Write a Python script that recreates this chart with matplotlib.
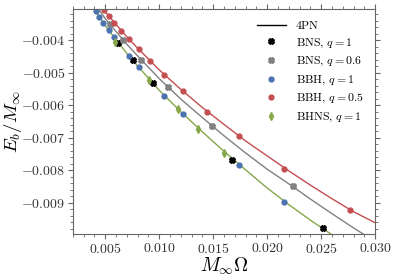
import numpy as np
import matplotlib
matplotlib.use("Agg")
import matplotlib.pyplot as plt
from matplotlib.ticker import MultipleLocator, FuncFormatter

plt.rcParams['font.family'] = 'serif'
plt.rcParams['font.serif'] = ['cmr10']
plt.rcParams['mathtext.fontset'] = 'cm'
plt.rcParams['axes.formatter.use_mathtext'] = True

# 4PN curves
om_q1 = [0.0035, 0.004, 0.005, 0.006, 0.007, 0.008, 0.010, 0.012, 0.014, 0.016,
         0.018, 0.020, 0.022, 0.024, 0.026]
eb_q1 = [-0.00284, -0.00305, -0.00355, -0.00398, -0.00440, -0.00479, -0.00554, -0.00620,
         -0.00682, -0.00742, -0.00799, -0.00855, -0.00906, -0.00954, -0.00999]
om_q06 = [0.004, 0.005, 0.006, 0.007, 0.008, 0.010, 0.012, 0.014, 0.016, 0.018,
          0.020, 0.022, 0.024, 0.026, 0.028, 0.030]
eb_q06 = [-0.00286, -0.00333, -0.00373, -0.00412, -0.00448, -0.00518, -0.00581, -0.00638,
          -0.00694, -0.00747, -0.00797, -0.00842, -0.00889, -0.00934, -0.00978, -0.01020]
om_q05 = [0.0045, 0.005, 0.006, 0.007, 0.008, 0.010, 0.012, 0.014, 0.016, 0.018,
          0.020, 0.022, 0.024, 0.026, 0.028, 0.030]
eb_q05 = [-0.00290, -0.00312, -0.00351, -0.00389, -0.00424, -0.00491, -0.00551, -0.00607,
          -0.00659, -0.00710, -0.00756, -0.00802, -0.00846, -0.00888, -0.00928, -0.00962]

# simulation points
bns1_x = [0.00622, 0.00756, 0.00939, 0.01678, 0.02514]
bns1_y = [-0.00408, -0.00461, -0.00532, -0.00768, -0.00978]
bns06_x = [0.00548, 0.00664, 0.00835, 0.01083, 0.01488, 0.02237]
bns06_y = [-0.00350, -0.00398, -0.00459, -0.00545, -0.00664, -0.00849]
bbh1_x = [0.00413, 0.00446, 0.00483, 0.00530, 0.00583, 0.00721, 0.00808, 0.01048,
          0.01224, 0.01740, 0.02157]
bbh1_y = [-0.00311, -0.00328, -0.00347, -0.00368, -0.00391, -0.00448, -0.00482, -0.00570,
          -0.00627, -0.00785, -0.00897]
bbh05_x = [0.0049, 0.00539, 0.00585, 0.00647, 0.00721, 0.00808, 0.00916, 0.01048,
           0.01219, 0.01441, 0.0174, 0.02157, 0.02769]
bbh05_y = [-0.00307, -0.00326, -0.00345, -0.00370, -0.00396, -0.00427, -0.00464, -0.00506,
           -0.00557, -0.00620, -0.00695, -0.00795, -0.00924]
bhns_x = [0.00592, 0.00902, 0.01171, 0.01361, 0.01603]
bhns_y = [-0.00404, -0.00521, -0.00612, -0.00672, -0.00746]

c_red = '#c44e52'
c_blue = '#4c72b0'
c_green = '#86a84a'
c_gray = '#808080'

fig = plt.figure(figsize=(3.94, 2.78), dpi=100)
ax = fig.add_axes([0.185, 0.158, 0.767, 0.81])

ax.plot(om_q05, eb_q05, '-', color=c_red, lw=1)
ax.plot(om_q06, eb_q06, '-', color=c_gray, lw=1)
ax.plot(om_q1, eb_q1, '-', color=c_green, lw=1)
ax.plot([], [], '-', color='k', lw=1, label='4PN')

ax.plot(bns1_x, bns1_y, 'X', color='k', ms=4, ls='none', label=r'BNS, $q=1$')
ax.plot(bns06_x, bns06_y, 'X', color=c_gray, ms=4, ls='none', label=r'BNS, $q=0.6$')
ax.plot(bbh1_x, bbh1_y, 'o', color=c_blue, ms=3.5, ls='none', label=r'BBH, $q=1$')
ax.plot(bbh05_x, bbh05_y, 'o', color=c_red, ms=3.5, ls='none', label=r'BBH, $q=0.5$')
ax.plot(bhns_x, bhns_y, 'd', color=c_green, ms=4, ls='none', label=r'BHNS, $q=1$')

ax.set_xlim(0.002, 0.030)
ax.set_ylim(-0.00997, -0.00303)
ax.xaxis.set_major_locator(MultipleLocator(0.005))
ax.xaxis.set_minor_locator(MultipleLocator(0.001))
ax.yaxis.set_major_locator(MultipleLocator(0.001))
ax.yaxis.set_minor_locator(MultipleLocator(0.0002))
fmt = FuncFormatter(lambda v, p: r'$%.3f$' % v)
ax.xaxis.set_major_formatter(fmt)
ax.yaxis.set_major_formatter(fmt)
ax.tick_params(which='both', direction='out', top=True, right=True, labelsize=10,
               colors='#666666', labelcolor='#333333', pad=2)
ax.tick_params(which='major', length=3.5)
ax.tick_params(which='minor', length=2)
for s in ax.spines.values():
    s.set_color('#666666')

ax.set_xlabel(r'$M_\infty\Omega$', fontsize=14, labelpad=0)
ax.set_ylabel(r'$E_b/M_\infty$', fontsize=13.5)
ax.yaxis.set_label_coords(-0.162, 0.5)

ax.legend(loc='upper right', frameon=False, fontsize=8.5, handlelength=2.5,
          labelspacing=0.45, borderaxespad=0.6, handletextpad=0.8)

fig.savefig('out.png', dpi=100)
